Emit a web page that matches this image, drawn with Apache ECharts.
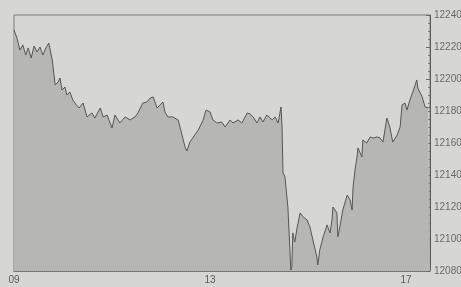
<!DOCTYPE html>
<html><head><meta charset="utf-8">
<script src="https://cdn.jsdelivr.net/npm/echarts@6/dist/echarts.min.js"></script>
<style>html,body{margin:0;padding:0;background:#d6d6d2}#c{width:461px;height:287px}</style>
</head><body><div id="c"></div>
<script>
var times = [9.00,9.06,9.12,9.18,9.24,9.29,9.35,9.41,9.47,9.53,9.59,9.65,9.71,9.78,9.84,9.90,9.94,9.98,10.04,10.08,10.14,10.20,10.27,10.33,10.41,10.49,10.59,10.65,10.76,10.82,10.90,11.00,11.06,11.16,11.27,11.37,11.47,11.53,11.63,11.71,11.78,11.84,11.92,11.98,12.04,12.08,12.14,12.24,12.35,12.43,12.49,12.53,12.59,12.69,12.76,12.86,12.92,13.00,13.06,13.14,13.24,13.31,13.35,13.41,13.47,13.57,13.65,13.76,13.82,13.88,13.96,14.02,14.08,14.16,14.27,14.33,14.39,14.45,14.47,14.49,14.53,14.57,14.59,14.65,14.67,14.69,14.73,14.78,14.84,14.88,14.90,14.98,15.04,15.10,15.18,15.20,15.24,15.31,15.39,15.41,15.45,15.49,15.51,15.59,15.61,15.65,15.71,15.80,15.86,15.90,15.92,15.96,16.00,16.02,16.10,16.12,16.20,16.27,16.33,16.41,16.47,16.53,16.61,16.67,16.73,16.82,16.88,16.92,16.98,17.02,17.08,17.14,17.22,17.24,17.33,17.39,17.45,17.49];
var values = [12230.6,12225.6,12218.1,12221.3,12215.0,12219.4,12213.1,12220.6,12216.9,12220.0,12215.0,12219.4,12222.5,12211.9,12196.3,12198.1,12200.6,12193.1,12195.0,12190.0,12191.9,12186.9,12183.8,12181.9,12185.0,12176.3,12178.8,12175.6,12181.9,12176.3,12177.5,12169.4,12177.5,12172.5,12176.3,12174.4,12176.3,12178.8,12185.0,12185.6,12188.1,12188.8,12181.9,12183.8,12185.6,12179.4,12176.3,12176.3,12174.4,12165.0,12157.5,12155.0,12160.6,12165.0,12168.1,12174.4,12180.6,12179.4,12174.4,12172.5,12173.1,12170.0,12169.4,12174.4,12172.5,12174.4,12172.5,12178.8,12178.1,12176.3,12172.5,12176.3,12173.1,12177.5,12174.4,12176.3,12172.5,12182.5,12170.0,12141.3,12138.8,12140.0,12120.0,12080.6,12082.5,12103.8,12098.1,12107.5,12116.3,12116.9,12113.8,12111.9,12107.5,12099.4,12088.8,12083.8,12093.1,12101.3,12108.8,12110.0,12103.8,12111.9,12120.0,12116.3,12101.3,12107.5,12118.1,12127.5,12124.4,12118.1,12132.5,12143.1,12151.3,12156.9,12151.3,12161.9,12160.0,12163.8,12163.1,12163.8,12163.1,12160.6,12175.6,12170.0,12160.6,12165.0,12170.0,12183.8,12185.0,12180.6,12186.9,12191.9,12199.4,12194.4,12188.8,12182.5,12181.9,12182.5];
var xTickLabels = {9:'09',13:'13',17:'17'};

var data = times.map(function(t,i){return [t, values[i]];});
var chart = echarts.init(document.getElementById('c'), null, {renderer:'canvas'});
chart.setOption({
  backgroundColor:'#d6d6d2',
  animation:false,
  grid:{left:14,right:31,top:15,bottom:16,containLabel:false,outerBoundsMode:'none',show:true,borderColor:'#7a7a78',borderWidth:1,backgroundColor:'transparent'},
  xAxis:{type:'value',min:9,max:17.49,interval:4,
    axisLine:{show:true,lineStyle:{color:'#6a6a68',type:'dotted',width:1}},
    axisTick:{show:true,inside:true,length:4,lineStyle:{color:'#6a6a68'}},
    splitLine:{show:false},
    axisLabel:{color:'#5a5a58',fontSize:10,fontFamily:'Liberation Sans, Arial',margin:4,
      formatter:function(v){return xTickLabels[v]||'';}}},
  yAxis:{type:'value',position:'right',min:12080,max:12240,interval:20,
    axisLine:{show:true,lineStyle:{color:'#5a5a58',width:1}},
    axisTick:{show:true,inside:true,length:4,lineStyle:{color:'#6a6a68'}},
    minorTick:{show:true,splitNumber:4,length:2,lineStyle:{color:'#7a7a78'}},
    splitLine:{show:false},
    axisLabel:{color:'#6a6a68',fontSize:10,fontFamily:'Liberation Sans, Arial',margin:4,
      formatter:function(v){return String(v);}}},
  series:[{type:'line',data:data,showSymbol:false,symbol:'none',
    lineStyle:{color:'#555553',width:1},
    areaStyle:{color:'#b6b6b2',origin:'start',opacity:1}}]
});
</script></body></html>
